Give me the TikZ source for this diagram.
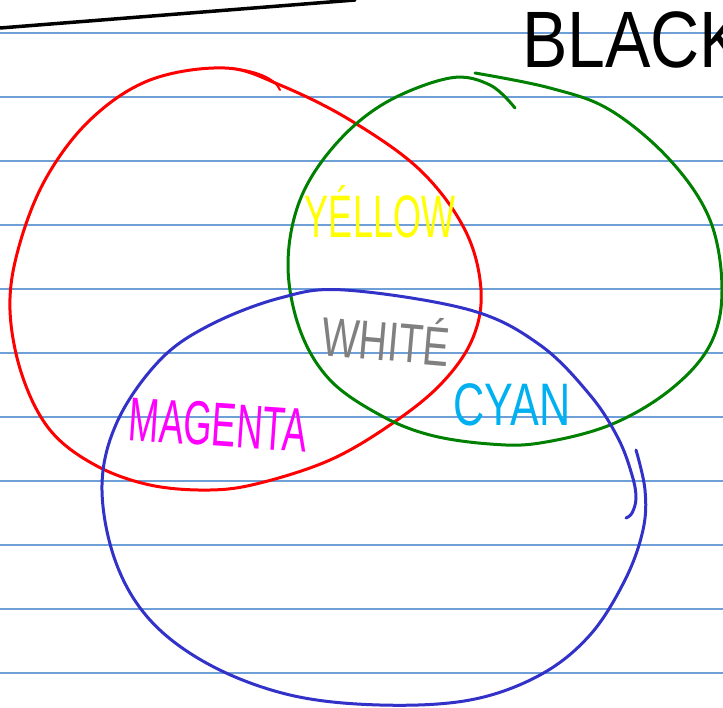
\documentclass[tikz,border=0pt]{standalone}
\usepackage{fontspec}
\setmainfont{Liberation Sans}
\definecolor{rule}{RGB}{110,160,215}
\definecolor{penred}{RGB}{255,0,0}
\definecolor{pengreen}{RGB}{0,128,0}
\definecolor{penblue}{RGB}{50,50,200}
\definecolor{penyellow}{RGB}{255,255,0}
\definecolor{pengray}{RGB}{128,128,128}
\definecolor{penmagenta}{RGB}{255,0,255}
\definecolor{pencyan}{RGB}{0,176,240}
\tikzset{
  ruling/.style={draw=rule, line width=1.3pt},
  pen/.style={line width=3pt, line cap=round, line join=round},
  label/.style={inner sep=0pt, anchor=center},
}
\begin{document}
\begin{tikzpicture}[x=1pt,y=-1pt]
\useasboundingbox (0,0) rectangle (723,707);
\clip (0,0) rectangle (723,707);
\fill[white] (0,0) rectangle (723,707);
% ruled paper
\foreach \k in {0,...,10}{
  \draw[ruling] (0,{33+64*\k}) -- (723,{33+64*\k});
}
% black stroke at top
\coordinate (bl1) at (0,28);
\coordinate (bl2) at (355,0);
\draw[pen, line width=3.5pt, black] (bl1) -- (bl2);
% red loop
\draw[pen, penred] plot[smooth cycle, tension=0.6] coordinates {
 (225,68) (280,85) (350,120) (420,170) (465,230) (481,290) (472,340)
 (440,385) (390,425) (330,460) (260,483) (210,490) (150,485) (95,465)
 (50,430) (22,375) (10,310) (18,250) (45,180) (90,120) (150,80)};
\draw[pen, penred, line width=2pt] (228,68) .. controls (255,70) and (275,78) .. (280,90);
% green loop
\draw[pen, pengreen] plot[smooth, tension=0.6] coordinates {
 (475,73) (550,88) (610,110) (670,160) (710,220) (722,290) (710,345)
 (670,390) (610,425) (540,443) (490,444) (430,435) (380,415) (330,380)
 (300,330) (288,265) (300,200) (335,145) (385,103) (450,78) (490,85) (515,108)};
% blue loop
\draw[pen, penblue] plot[smooth, tension=0.6] coordinates {
 (636,450) (645,490) (643,530) (625,580) (590,635) (540,675) (470,700)
 (380,705) (290,695) (210,665) (150,620) (115,560) (102,485) (118,420)
 (160,360) (210,325) (280,298) (345,290) (470,310) (540,345) (590,395)
 (618,438) (632,475) (636,498) (632,513) (626,518)};
% labels
\node[label, penyellow, font=\fontsize{60}{60}\selectfont] (yellow) at (380,212) {\scalebox{0.6}[1]{YÉLLOW}};
\node[label, pengray, font=\fontsize{55}{55}\selectfont, rotate=-5] (white) at (386,337) {\scalebox{0.72}[1]{WHITÉ}};
\node[label, penmagenta, font=\fontsize{62}{62}\selectfont, rotate=-4] (magenta) at (218,425) {\scalebox{0.59}[1]{MAGENTA}};
\node[label, pencyan, font=\fontsize{60}{60}\selectfont] (cyan) at (512,405) {\scalebox{0.72}[1]{CYAN}};
\node[label, anchor=west, black, font=\fontsize{80}{80}\selectfont] (black) at (522,40) {\scalebox{0.85}[1]{BLACK}};
\end{tikzpicture}
\end{document}
